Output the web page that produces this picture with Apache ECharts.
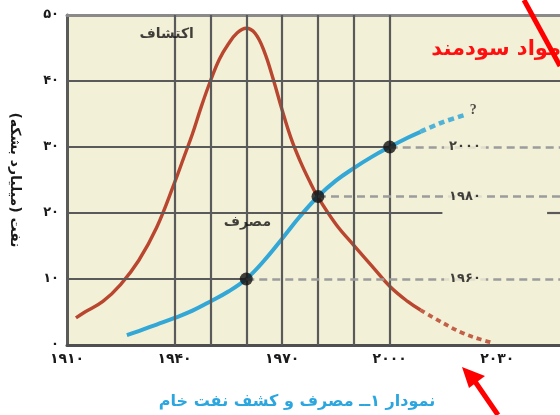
<!DOCTYPE html>
<html>
<head>
<meta charset="utf-8">
<script src="https://cdn.jsdelivr.net/npm/echarts@6/dist/echarts.min.js"></script>
<style>
html,body{margin:0;padding:0;background:#fff;}
#c{width:560px;height:415px;}
</style>
</head>
<body>
<div id="c"></div>
<script>
// ---- data ----
const xTickValues = [1910, 1940, 1970, 2000, 2030];
const xTickLabels = ['۱۹۱۰', '۱۹۴۰', '۱۹۷۰', '۲۰۰۰', '۲۰۳۰'];
const yTickValues = [0, 10, 20, 30, 40, 50];
const yTickLabels = ['۰', '۱۰', '۲۰', '۳۰', '۴۰', '۵۰'];

const discoveryYears = [1912.5, 1915, 1920, 1925, 1930, 1935, 1940, 1942.5, 1945, 1947.5, 1950, 1952.5, 1955, 1957.5, 1960, 1962.5, 1965, 1967.5, 1970, 1972.5, 1975, 1977.5, 1980, 1985, 1990, 1995, 2000, 2005, 2008.6];
const discoveryValues = [4.1, 5.0, 6.6, 9.2, 12.8, 17.8, 24.6, 28.3, 32.0, 36.2, 40.0, 43.3, 45.6, 47.3, 48.0, 47.2, 44.5, 40.3, 35.6, 31.3, 27.9, 25.0, 22.4, 18.3, 15.1, 12.0, 8.9, 6.6, 5.3];
const discoveryForecastYears = [2008.6, 2015, 2020, 2025, 2029];
const discoveryForecastValues = [5.3, 3.3, 1.9, 0.9, 0.3];

const consumptionYears = [1926.7, 1930, 1935, 1940, 1945, 1950, 1955, 1960, 1965, 1970, 1975, 1980, 1985, 1990, 1995, 2000, 2005, 2008.6];
const consumptionValues = [1.5, 2.1, 3.1, 4.1, 5.2, 6.6, 8.1, 10, 12.8, 16.1, 19.5, 22.5, 24.9, 26.8, 28.5, 30, 31.4, 32.3];
const consumptionForecastYears = [2008.6, 2014.5, 2020.6];
const consumptionForecastValues = [32.3, 33.7, 34.8];

const markerYears = [1960, 1980, 2000];
const markerValues = [10, 22.5, 30];
const markerLabels = ['۱۹۶۰', '۱۹۸۰', '۲۰۰۰'];
const markerLabelYear = 2021;

const gridYears = [1940, 1950, 1960, 1970, 1980, 1990, 2000];
const gridValues = [10, 20, 30, 40];

const seriesNames = ['اکتشاف', 'مصرف'];
const seriesLabelYears = [1937.8, 1960.3];
const seriesLabelValues = [47.0, 18.6];
const questionMark = ['?', 2023.3, 35.6];

const yAxisTitle = 'نفت (میلیارد بشکه)';
const captionText = 'نمودار ۱ــ مصرف و کشف نفت خام';
const noteText = 'مواد سودمند';

// ---- chart ----
const X_MIN = 1910, X_MAX = 2047.5;
const PLOT_BG = '#f3f0d8';
const RED = '#b9462f', BLUE = '#33a7d6';
const GRID_COLOR = '#5a5a5a', DASH_COLOR = '#9c9c9c';
const FONT = 'DejaVu Sans';

const zip = (xs, ys) => xs.map((x, i) => [x, ys[i]]);

function seg(x1, y1, x2, y2, style) {
  return [{ coord: [x1, y1], lineStyle: style }, { coord: [x2, y2] }];
}
const solid = { color: GRID_COLOR, width: 2.2, type: 'solid' };
const dashed = { color: DASH_COLOR, width: 2.5, type: [8, 5] };

const gridLines = [];
gridYears.forEach(y => gridLines.push(seg(y, 0, y, 50, solid)));
gridLines.push(seg(X_MIN, gridValues[0], markerYears[0], gridValues[0], solid));
gridLines.push(seg(X_MIN, gridValues[1], 2014.7, gridValues[1], solid));
gridLines.push(seg(2043.9, gridValues[1], X_MAX, gridValues[1], solid));
gridLines.push(seg(X_MIN, gridValues[2], markerYears[2], gridValues[2], solid));
gridLines.push(seg(X_MIN, gridValues[3], X_MAX, gridValues[3], solid));
markerYears.forEach((y, i) => gridLines.push(seg(y, markerValues[i], X_MAX, markerValues[i], dashed)));

const chart = echarts.init(document.getElementById('c'), null, { renderer: 'canvas' });

const labelBold = { fontFamily: FONT, fontWeight: 'bold', color: '#111' };

chart.setOption({
  animation: false,
  backgroundColor: '#ffffff',
  grid: { left: 65, right: 0, top: 15, bottom: 70, show: true, backgroundColor: PLOT_BG, borderWidth: 0 },
  xAxis: [{
    type: 'value', min: X_MIN, max: X_MAX, interval: 30,
    axisLine: { show: true, onZero: false, lineStyle: { color: '#4f4f4f', width: 3 } },
    axisTick: { show: false },
    splitLine: { show: false },
    axisLabel: {
      showMaxLabel: false, margin: 7,
      fontFamily: FONT, fontWeight: 'bold', fontSize: 14, color: '#1a1a1a',
      formatter: v => { const i = xTickValues.indexOf(v); return i >= 0 ? xTickLabels[i] : ''; }
    }
  }, {
    type: 'value', min: X_MIN, max: X_MAX, position: 'top',
    axisLine: { show: true, onZero: false, lineStyle: { color: '#8a8a8a', width: 3 } },
    axisTick: { show: false }, axisLabel: { show: false }, splitLine: { show: false }
  }],
  yAxis: {
    type: 'value', min: 0, max: 50, interval: 10,
    name: yAxisTitle, nameLocation: 'middle', nameRotate: -90, nameGap: 45,
    nameTextStyle: { fontFamily: FONT, fontWeight: 'bold', fontSize: 14, color: '#1a1a1a' },
    axisLine: { show: true, lineStyle: { color: '#5a5a5a', width: 3 } },
    axisTick: { show: false },
    splitLine: { show: false },
    axisLabel: {
      margin: 8, fontFamily: FONT, fontWeight: 'bold', fontSize: 13, color: '#1a1a1a',
      formatter: v => { const i = yTickValues.indexOf(v); return i >= 0 ? yTickLabels[i] : ''; }
    }
  },
  series: [
    {
      type: 'line', data: [], silent: true, z: 1,
      markLine: { silent: true, symbol: ['none', 'none'], label: { show: false }, animation: false, data: gridLines }
    },
    {
      name: seriesNames[0], type: 'line', data: zip(discoveryYears, discoveryValues),
      smooth: 0.4, showSymbol: false, lineStyle: { color: RED, width: 3.4 }, z: 3
    },
    {
      type: 'line', data: zip(discoveryForecastYears, discoveryForecastValues),
      smooth: 0.4, showSymbol: false, lineStyle: { color: RED, width: 3.8, type: [5, 4], opacity: 0.85 }, z: 3
    },
    {
      name: seriesNames[1], type: 'line', data: zip(consumptionYears, consumptionValues),
      smooth: 0.4, showSymbol: false, lineStyle: { color: BLUE, width: 4 }, z: 4
    },
    {
      type: 'line', data: zip(consumptionForecastYears, consumptionForecastValues),
      smooth: 0.4, showSymbol: false, lineStyle: { color: BLUE, width: 4.5, type: [6, 4], opacity: 0.85 }, z: 4
    },
    {
      type: 'scatter', data: zip(markerYears, markerValues), symbolSize: 13,
      itemStyle: { color: '#111' }, z: 6, silent: true
    },
    {
      type: 'scatter', symbolSize: 0, z: 7, silent: true,
      data: markerValues.map((v, i) => ({ value: [markerLabelYear, v], name: markerLabels[i] })),
      label: {
        show: true, position: 'inside', formatter: p => p.name,
        ...labelBold, fontSize: 13, backgroundColor: PLOT_BG, padding: [1, 5]
      }
    },
    {
      type: 'scatter', symbolSize: 0, z: 7, silent: true,
      data: seriesNames.map((n, i) => ({ value: [seriesLabelYears[i], seriesLabelValues[i]], name: n })),
      label: { show: true, position: 'inside', formatter: p => p.name, ...labelBold, fontSize: 14 }
    },
    {
      type: 'scatter', symbolSize: 0, z: 7, silent: true,
      data: [{ value: [questionMark[1], questionMark[2]], name: questionMark[0] }],
      label: { show: true, position: 'inside', formatter: p => p.name, fontFamily: 'Liberation Serif', fontWeight: 'bold', fontSize: 14, color: '#222' }
    }
  ],
  graphic: [
    {
      type: 'text', x: 297, y: 402, z: 10,
      style: { text: captionText, fontFamily: FONT, fontWeight: 'bold', fontSize: 16, fill: '#2ba6df', align: 'center', verticalAlign: 'middle' }
    },
    {
      type: 'text', z: 10, x: 561, y: 50,
      style: { text: noteText, fontFamily: FONT, fontWeight: 'bold', fontSize: 21, fill: '#ff1010', align: 'right', verticalAlign: 'middle' }
    },
    {
      type: 'line', z: 11, shape: { x1: 524, y1: 0, x2: 560, y2: 66 },
      style: { stroke: '#ff0000', lineWidth: 5 }
    },
    {
      type: 'line', z: 11, shape: { x1: 474, y1: 380, x2: 498, y2: 415 },
      style: { stroke: '#ff0000', lineWidth: 5 }
    },
    {
      type: 'polygon', z: 11, shape: { points: [[462, 367], [485, 376], [469, 388]] },
      style: { fill: '#ff0000' }
    }
  ]
});
</script>
</body>
</html>
